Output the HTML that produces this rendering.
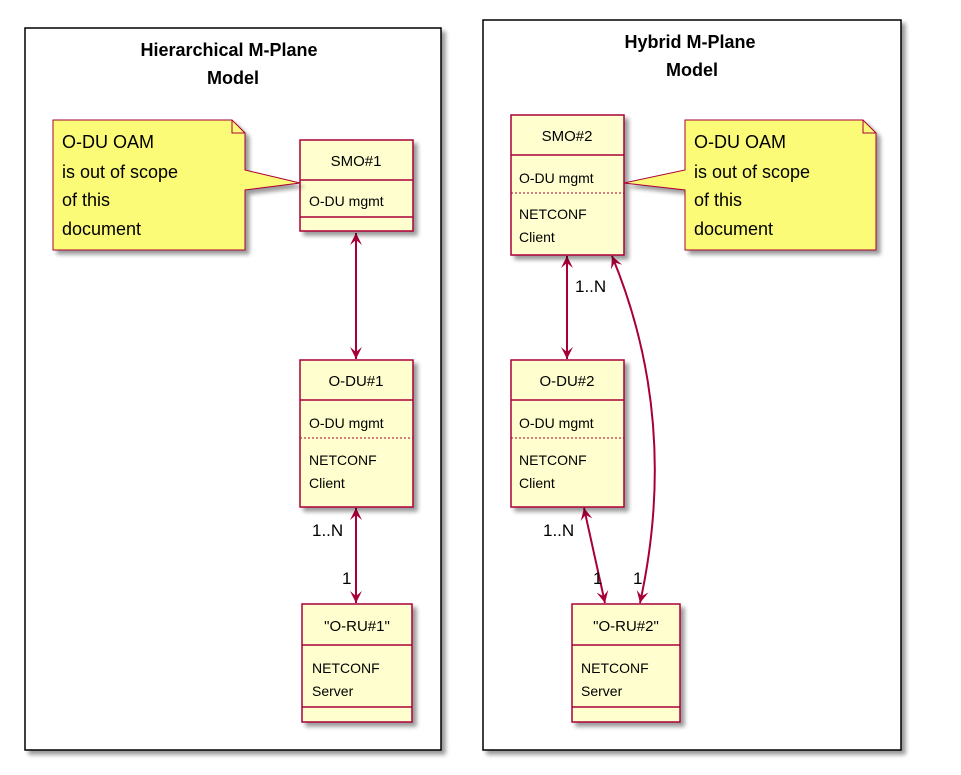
<!DOCTYPE html>
<html><head><style>body{margin:0;background:#fff}svg{display:block}text{font-family:"Liberation Sans",sans-serif;fill:#000}</style></head><body>
<svg width="961" height="775" viewBox="0 0 961 775" xmlns="http://www.w3.org/2000/svg">
<defs>
<filter id="sh" x="-10%" y="-10%" width="130%" height="130%"><feGaussianBlur in="SourceAlpha" stdDeviation="2"/><feOffset dx="4" dy="4"/><feComponentTransfer><feFuncA type="linear" slope="0.4"/></feComponentTransfer><feMerge><feMergeNode/><feMergeNode in="SourceGraphic"/></feMerge></filter>
<marker id="ar" markerWidth="14" markerHeight="14" refX="12" refY="6" orient="auto-start-reverse" markerUnits="userSpaceOnUse"><path d="M0,0 L12,6 L0,12 L5,6 Z" fill="#A80036"/></marker>
</defs>
<rect x="25" y="28" width="416" height="722" fill="#fff" stroke="#000" stroke-width="1.5" filter="url(#sh)"/>
<rect x="483" y="20" width="418" height="730" fill="#fff" stroke="#000" stroke-width="1.5" filter="url(#sh)"/>
<g font-weight="bold" font-size="18" text-anchor="middle">
<text x="229" y="56">Hierarchical M-Plane</text><text x="233" y="84">Model</text>
<text x="690" y="48">Hybrid M-Plane</text><text x="692" y="76">Model</text>
</g>
<g stroke="#A80036" stroke-width="2" fill="none">
<line x1="356" y1="233" x2="356" y2="359" marker-start="url(#ar)" marker-end="url(#ar)"/>
<line x1="356" y1="508" x2="356" y2="603" marker-start="url(#ar)" marker-end="url(#ar)"/>
<line x1="567" y1="256" x2="567" y2="359" marker-start="url(#ar)" marker-end="url(#ar)"/>
<line x1="584" y1="508" x2="605" y2="603" marker-start="url(#ar)" marker-end="url(#ar)"/>
<path d="M612,256 Q680,420 640,603" marker-start="url(#ar)" marker-end="url(#ar)"/>
</g>
<g fill="#FEFECE" stroke="#A80036" stroke-width="1.5" filter="url(#sh)">
<rect x="300" y="140" width="113" height="91"/>
<rect x="300" y="360" width="113" height="147"/>
<rect x="302" y="604" width="110" height="118"/>
<rect x="511" y="115" width="113" height="140"/>
<rect x="511" y="360" width="113" height="147"/>
<rect x="572" y="604" width="108" height="118"/>
</g>
<g stroke="#A80036" stroke-width="1.5">
<line x1="300" y1="180" x2="413" y2="180"/><line x1="300" y1="217" x2="413" y2="217"/>
<line x1="300" y1="400" x2="413" y2="400"/>
<line x1="302" y1="645" x2="412" y2="645"/><line x1="302" y1="707" x2="412" y2="707"/>
<line x1="511" y1="155" x2="624" y2="155"/>
<line x1="511" y1="400" x2="624" y2="400"/>
<line x1="572" y1="645" x2="680" y2="645"/><line x1="572" y1="707" x2="680" y2="707"/>
</g>
<g stroke="#A80036" stroke-width="1" stroke-dasharray="2,2">
<line x1="300" y1="438" x2="413" y2="438"/><line x1="511" y1="438" x2="624" y2="438"/><line x1="511" y1="193" x2="624" y2="193"/>
</g>
<g fill="#FBFB77" stroke="#A80036" stroke-width="1" filter="url(#sh)">
<path d="M53,120 L232,120 L245,133 L245,170 L300,183 L245,190 L245,250 L53,250 Z"/>
<path d="M685,120 L863,120 L876,133 L876,250 L685,250 L685,190 L624,183 L685,170 Z"/>
</g>
<g fill="none" stroke="#A80036" stroke-width="1"><path d="M232,120 L232,133 L245,133"/><path d="M863,120 L863,133 L876,133"/></g>
<g font-size="15" text-anchor="middle">
<text x="356" y="166">SMO#1</text><text x="356" y="386">O-DU#1</text><text x="357" y="631">"O-RU#1"</text>
<text x="567" y="141">SMO#2</text><text x="567" y="386">O-DU#2</text><text x="626" y="631">"O-RU#2"</text>
</g>
<g font-size="14">
<text x="309" y="206">O-DU mgmt</text>
<text x="309" y="428">O-DU mgmt</text><text x="309" y="465">NETCONF</text><text x="309" y="488">Client</text>
<text x="312" y="673">NETCONF</text><text x="312" y="696">Server</text>
<text x="519" y="183">O-DU mgmt</text><text x="519" y="219">NETCONF</text><text x="519" y="242">Client</text>
<text x="519" y="428">O-DU mgmt</text><text x="519" y="465">NETCONF</text><text x="519" y="488">Client</text>
<text x="581" y="673">NETCONF</text><text x="581" y="696">Server</text>
</g>
<g font-size="18">
<text x="62" y="148">O-DU OAM</text><text x="62" y="178">is out of scope</text><text x="62" y="206">of this</text><text x="62" y="235">document</text>
<text x="694" y="148">O-DU OAM</text><text x="694" y="178">is out of scope</text><text x="694" y="206">of this</text><text x="694" y="235">document</text>
</g>
<g font-size="17" fill="#222">
<text x="312" y="536">1..N</text><text x="342" y="584">1</text>
<text x="575" y="292">1..N</text>
<text x="543" y="536">1..N</text><text x="593" y="584">1</text><text x="633" y="584">1</text>
</g>
</svg>
</body></html>
